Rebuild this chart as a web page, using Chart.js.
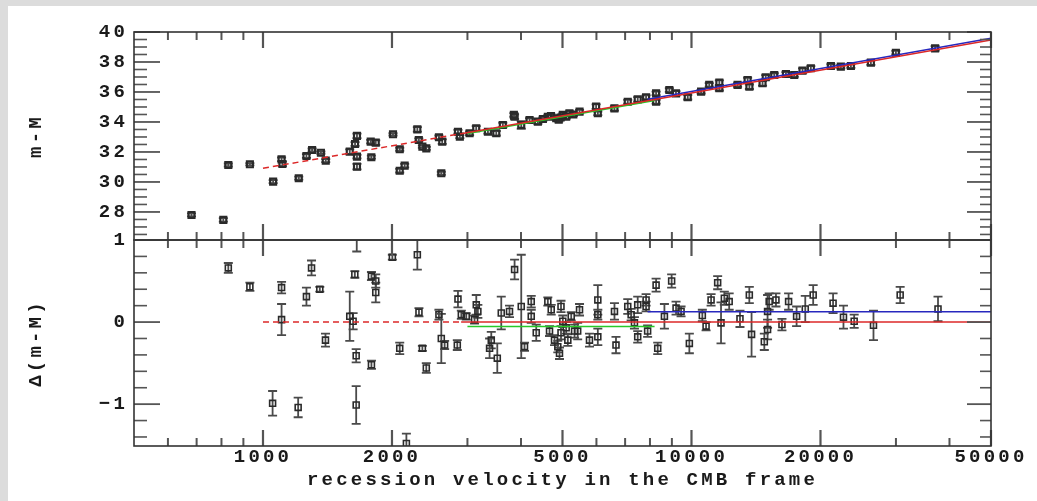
<!DOCTYPE html>
<html>
<head>
<meta charset="utf-8">
<script src="https://cdn.jsdelivr.net/npm/chart.js@4.4.1/dist/chart.umd.min.js"></script>
<style>
html, body { margin: 0; padding: 0; background: #dcdcdc; width: 1037px; height: 501px; overflow: hidden; }
#page { position: absolute; left: 8px; top: 6px; width: 1029px; height: 495px; background: #fff; }
#topChart { position: absolute; left: 0; top: 0; }
#botChart { position: absolute; left: 0; top: 230px; }
</style>
</head>
<body>
<div id="page"></div>
<canvas id="topChart" width="1037" height="250"></canvas>
<canvas id="botChart" width="1037" height="271"></canvas>
<script>
(function () {

/* ---------- data ---------- */

const xMin = 500, xMax = 50000;
const xLabelTicks = [1000, 2000, 5000, 10000, 20000, 50000];
const xMinorTicks = [600, 700, 800, 900, 3000, 4000, 6000, 7000, 8000, 9000, 30000, 40000];

const topYTicks = [28, 30, 32, 34, 36, 38, 40];
const botYTicks = [-1, 0, 1];

// upper panel: distance modulus vs CMB velocity
const topVel = [681, 808, 830, 932, 1056, 1105, 1110, 1212, 1263, 1302, 1365, 1401,
  1594, 1640, 1657, 1657, 1657, 1784, 1790, 1833, 2011, 2085, 2085, 2141, 2292, 2310,
  2355, 2405, 2574, 2607, 2620, 2851, 2880, 3035, 3145, 3349, 3503, 3628, 3850, 3865,
  4006, 4189, 4380, 4500, 4621, 4700, 4834, 4900, 4950, 5008, 5100, 5190, 5300, 5480,
  5990, 6045, 6610, 7100, 7490, 7835, 8268, 8268, 8878, 9200, 9800, 10530, 11000, 11615,
  11615, 12810, 13520, 13650, 14650, 14900, 15600, 16610, 17370, 18160, 18990, 21150,
  22310, 23550, 26220, 29990, 37030];
const topMag = [27.80, 27.47, 31.13, 31.18, 30.02, 31.51, 31.20, 30.25, 31.73, 32.13, 31.95, 31.42,
  32.02, 32.53, 33.07, 31.69, 31.02, 32.69, 31.65, 32.62, 33.18, 32.18, 30.75, 31.09, 33.51, 32.80,
  32.36, 32.24, 32.98, 30.58, 32.69, 33.35, 33.02, 33.25, 33.58, 33.35, 33.25, 33.80, 34.47, 34.35,
  33.80, 34.13, 34.02, 34.20, 34.35, 34.40, 34.25, 34.15, 34.30, 34.47, 34.35, 34.58, 34.50, 34.69,
  35.02, 34.58, 34.91, 35.35, 35.51, 35.65, 35.35, 35.91, 36.13, 35.91, 35.65, 36.02, 36.47, 36.25,
  36.62, 36.47, 36.80, 36.35, 36.58, 36.98, 37.13, 37.20, 37.13, 37.42, 37.58, 37.73,
  37.69, 37.73, 37.96, 38.62, 38.91];
const topErr = [0.10, 0.12, 0.10, 0.08, 0.10, 0.12, 0.15, 0.10, 0.12, 0.10, 0.08, 0.10,
  0.15, 0.12, 0.15, 0.12, 0.18, 0.12, 0.10, 0.15, 0.08, 0.10, 0.12, 0.12, 0.15, 0.10,
  0.08, 0.10, 0.12, 0.10, 0.15, 0.12, 0.10, 0.12, 0.15, 0.12, 0.15, 0.15, 0.12, 0.15,
  0.25, 0.12, 0.15, 0.10, 0.10, 0.12, 0.12, 0.12, 0.12, 0.10, 0.12, 0.12, 0.10, 0.12,
  0.15, 0.12, 0.15, 0.12, 0.15, 0.12, 0.12, 0.12, 0.12, 0.15, 0.15, 0.12, 0.12, 0.15,
  0.15, 0.12, 0.15, 0.15, 0.15, 0.15, 0.12, 0.12, 0.12, 0.15, 0.15, 0.12,
  0.12, 0.12, 0.15, 0.12, 0.15];

// lower panel: residuals
const botVel = [830, 932, 1053, 1105, 1105, 1208, 1263, 1298, 1357, 1399,
  1594, 1623, 1638, 1650, 1650, 1655, 1791, 1791, 1833, 1833,
  2004, 2085, 2161, 2292, 2312, 2355, 2405, 2574, 2607, 2654,
  2841, 2851, 2903, 2981, 3117, 3146, 3173, 3379, 3410, 3522,
  3598, 3761, 3865, 4006, 4077, 4227, 4227, 4342, 4621, 4706,
  4663, 4790, 4875, 4920, 4960, 5008, 4960, 5100, 5145, 5240,
  5335, 5425, 5479, 5780, 6045, 6045, 6045, 6611, 6665, 7100,
  7230, 7360, 7490, 7490, 7835, 7835, 7900, 8268, 8340, 8646,
  8988, 9204, 9455, 9886, 10600, 10815, 11110, 11510, 11720, 11930,
  12245, 12976, 13645, 13810, 14790, 15050, 15050, 15180, 15744, 16260,
  16850, 17590, 18430, 19230, 21400, 22630, 23970, 26590, 30690, 37610];
const botRes = [0.66, 0.43, -0.99, 0.42, 0.03, -1.04, 0.31, 0.66, 0.40, -0.22,
  0.07, 0.01, 0.58, -0.41, -1.01, 1.08, 0.56, -0.52, 0.50, 0.36,
  0.79, -0.32, -1.48, 0.82, 0.12, -0.32, -0.56, 0.09, -0.20, -0.28,
  -0.28, 0.28, 0.09, 0.07, 0.03, 0.21, 0.13, -0.32, -0.22, -0.44,
  0.11, 0.13, 0.64, 0.19, -0.30, 0.25, 0.07, -0.13, 0.25, 0.15,
  -0.11, -0.22, -0.30, -0.38, 0.19, 0.01, -0.13, -0.07, -0.22, 0.07,
  -0.11, -0.11, 0.15, -0.22, 0.27, 0.09, -0.18, 0.13, -0.28, 0.19,
  0.09, -0.01, 0.21, -0.18, 0.27, 0.19, -0.11, 0.45, -0.32, 0.07,
  0.50, 0.17, 0.13, -0.26, 0.08, -0.05, 0.27, 0.48, -0.01, 0.29,
  0.25, 0.04, 0.33, -0.15, -0.24, -0.09, 0.13, 0.25, 0.27, -0.03,
  0.25, 0.07, 0.16, 0.33, 0.23, 0.06, 0.01, -0.04, 0.33, 0.16];
const botErr = [0.06, 0.05, 0.15, 0.07, 0.19, 0.12, 0.11, 0.09, 0.03, 0.08,
  0.30, 0.10, 0.04, 0.08, 0.23, 0.22, 0.05, 0.05, 0.08, 0.12,
  0.03, 0.07, 0.12, 0.18, 0.05, 0.03, 0.06, 0.06, 0.30, 0.05,
  0.06, 0.10, 0.05, 0.04, 0.05, 0.12, 0.08, 0.12, 0.10, 0.18,
  0.20, 0.07, 0.12, 0.63, 0.05, 0.07, 0.08, 0.10, 0.05, 0.06,
  0.06, 0.06, 0.07, 0.07, 0.07, 0.07, 0.08, 0.07, 0.07, 0.05,
  0.08, 0.10, 0.07, 0.08, 0.18, 0.06, 0.10, 0.10, 0.10, 0.09,
  0.07, 0.07, 0.10, 0.07, 0.07, 0.06, 0.07, 0.08, 0.07, 0.15,
  0.08, 0.08, 0.06, 0.12, 0.07, 0.05, 0.07, 0.08, 0.25, 0.08,
  0.10, 0.10, 0.10, 0.27, 0.10, 0.12, 0.20, 0.10, 0.08, 0.07,
  0.10, 0.12, 0.16, 0.12, 0.12, 0.14, 0.08, 0.18, 0.10, 0.15];

// fitted relations (end points of each segment)
const redDashVel = [1000, 2900];
const redDashTop = [30.91, 33.22];
const redDashBot = [0, 0];
const redVel = [2900, 50000];
const redTop = [33.22, 39.47];
const redBot = [0, 0];
const greenVel = [3000, 8200];
const greenTop = [33.23, 35.43];
const greenBot = [-0.055, -0.055];
const blueVel = [7900, 50000];
const blueTop = [35.52, 39.58];
const blueBot = [0.125, 0.125];

/* ---------- helpers ---------- */

Chart.defaults.font.family = "'Liberation Mono', monospace";
Chart.defaults.font.size = 19;
Chart.defaults.font.weight = 'bold';
Chart.defaults.color = '#1a1a1a';

function pts(xs, ys) {
  return xs.map((v, i) => ({x: v, y: ys[i]}));
}

function pointSet(xs, ys, err, w) {
  return {
    type: 'scatter',
    data: pts(xs, ys),
    err: err,
    pointStyle: 'rect',
    pointRadius: 4.2,
    pointBorderWidth: w,
    pointBorderColor: '#2a2a2a',
    pointBackgroundColor: 'rgba(0,0,0,0)',
    order: 2
  };
}

function lineSet(xs, ys, color, dash) {
  return {
    type: 'line',
    data: pts(xs, ys),
    borderColor: color,
    borderWidth: 1.5,
    borderDash: dash || [],
    pointRadius: 0,
    fill: false,
    order: 1
  };
}

/* ---------- plugins ---------- */

const errorBars = {
  id: 'errorBars',
  beforeDatasetsDraw(chart) {
    const {ctx, chartArea: a, scales: {x, y}} = chart;
    ctx.save();
    ctx.beginPath();
    ctx.rect(a.left, a.top, a.right - a.left, a.bottom - a.top);
    ctx.clip();
    ctx.strokeStyle = '#4a4a4a';
    ctx.lineWidth = 1.8;
    chart.data.datasets.forEach(ds => {
      if (!ds.err) return;
      ds.data.forEach((p, i) => {
        const px = x.getPixelForValue(p.x);
        const y1 = y.getPixelForValue(p.y - ds.err[i]);
        const y2 = y.getPixelForValue(p.y + ds.err[i]);
        ctx.beginPath();
        ctx.moveTo(px, y1); ctx.lineTo(px, y2);
        ctx.moveTo(px - 4.5, y1); ctx.lineTo(px + 4.5, y1);
        ctx.moveTo(px - 4.5, y2); ctx.lineTo(px + 4.5, y2);
        ctx.stroke();
      });
    });
    ctx.restore();
  }
};

const frameTicks = {
  id: 'frameTicks',
  beforeDraw(chart) {
    chart.ctx.letterSpacing = '3.2px';
  },
  afterDraw(chart, args, opts) {
    const {ctx, chartArea: a, scales: {x, y}} = chart;
    ctx.save();
    ctx.letterSpacing = '0px';
    ctx.strokeStyle = '#555';

    function seg(x1, y1, x2, y2, w) {
      ctx.lineWidth = w;
      ctx.beginPath();
      ctx.moveTo(x1, y1);
      ctx.lineTo(x2, y2);
      ctx.stroke();
    }

    xLabelTicks.forEach(v => {
      const px = x.getPixelForValue(v);
      seg(px, a.top, px, a.top + 16, 2.2);
      seg(px, a.bottom, px, a.bottom - 16, 2.2);
    });
    xMinorTicks.forEach(v => {
      const px = x.getPixelForValue(v);
      seg(px, a.top, px, a.top + 8, 2);
      seg(px, a.bottom, px, a.bottom - 8, 2);
    });

    opts.yMajor.forEach(v => {
      const py = y.getPixelForValue(v);
      seg(a.left, py, a.left + 26, py, 1.8);
      seg(a.right, py, a.right - 24, py, 1.8);
    });
    opts.yMinor.forEach(v => {
      const py = y.getPixelForValue(v);
      seg(a.left, py, a.left + 13, py, 1.6);
      seg(a.right, py, a.right - 11, py, 1.6);
    });

    ctx.strokeStyle = '#333';
    ctx.lineWidth = 1.6;
    ctx.strokeRect(a.left, a.top, a.right - a.left, a.bottom - a.top);
    ctx.restore();
  }
};

function minorList(from, to, step, majors) {
  const out = [];
  for (let v = from; v <= to + 1e-9; v += step) {
    const r = Math.round(v * 100) / 100;
    if (!majors.includes(r)) out.push(r);
  }
  return out;
}

function fixedWidth(scale) { scale.width = 134; }

/* ---------- upper panel ---------- */

new Chart(document.getElementById('topChart'), {
  type: 'scatter',
  data: {
    datasets: [
      pointSet(topVel, topMag, topErr, 2.2),
      lineSet(redDashVel, redDashTop, 'rgb(220,40,40)', [6, 4]),
      lineSet(redVel, redTop, 'rgb(220,40,40)'),
      lineSet(greenVel, greenTop, 'rgb(40,200,40)'),
      lineSet(blueVel, blueTop, 'rgb(40,40,190)')
    ]
  },
  options: {
    responsive: false,
    animation: false,
    layout: {autoPadding: false, padding: {top: 32, right: 46, bottom: 10, left: 0}},
    scales: {
      x: {type: 'logarithmic', min: xMin, max: xMax, display: false},
      y: {
        type: 'linear', min: 26.13, max: 40,
        grid: {display: false, drawTicks: false},
        border: {display: false},
        afterBuildTicks: s => { s.ticks = topYTicks.map(v => ({value: v})); },
        afterFit: fixedWidth,
        ticks: {padding: 6, font: {lineHeight: 0.4}, callback: v => String(v)},
        title: {display: true, text: 'm-M', padding: {top: 25, bottom: 0}}
      }
    },
    plugins: {
      legend: {display: false},
      tooltip: {enabled: false},
      frameTicks: {yMajor: topYTicks, yMinor: minorList(26.5, 39.5, 0.5, topYTicks)}
    }
  },
  plugins: [errorBars, frameTicks]
});

/* ---------- lower panel ---------- */

new Chart(document.getElementById('botChart'), {
  type: 'scatter',
  data: {
    datasets: [
      pointSet(botVel, botRes, botErr, 1.6),
      lineSet(redDashVel, redDashBot, 'rgb(220,40,40)', [6, 4]),
      lineSet(redVel, redBot, 'rgb(220,40,40)'),
      lineSet(greenVel, greenBot, 'rgb(40,200,40)'),
      lineSet(blueVel, blueBot, 'rgb(40,40,190)')
    ]
  },
  options: {
    responsive: false,
    animation: false,
    layout: {autoPadding: false, padding: {top: 10, right: 46, bottom: 0, left: 0}},
    scales: {
      x: {
        type: 'logarithmic', min: xMin, max: xMax,
        grid: {display: false, drawTicks: false},
        border: {display: false},
        afterBuildTicks: s => { s.ticks = xLabelTicks.map(v => ({value: v})); },
        afterFit: s => { s.height = 55; },
        ticks: {padding: 0, autoSkip: false, maxRotation: 0, callback: v => String(v)},
        title: {display: true, text: 'recession velocity in the CMB frame', padding: {top: 0, bottom: 9}}
      },
      y: {
        type: 'linear', min: -1.51, max: 1,
        grid: {display: false, drawTicks: false},
        border: {display: false},
        afterBuildTicks: s => { s.ticks = botYTicks.map(v => ({value: v})); },
        afterFit: fixedWidth,
        ticks: {padding: 6, font: {lineHeight: 0.4}, callback: v => (v < 0 ? '\u2212' + Math.abs(v) : String(v))},
        title: {display: true, text: '\u0394(m-M)', padding: {top: 25, bottom: 0}}
      }
    },
    plugins: {
      legend: {display: false},
      tooltip: {enabled: false},
      frameTicks: {yMajor: botYTicks, yMinor: minorList(-1.4, 0.8, 0.2, botYTicks)}
    }
  },
  plugins: [errorBars, frameTicks]
});

})();
</script>
</body>
</html>
